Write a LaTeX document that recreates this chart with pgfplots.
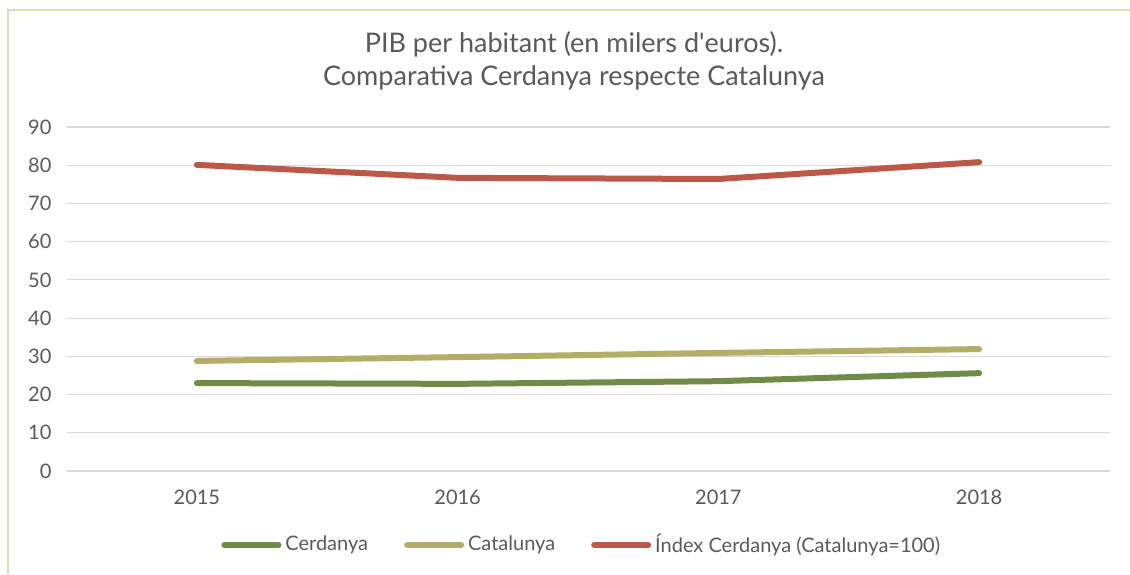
\documentclass[border=0pt]{standalone}
\usepackage{pgfplots}
\pgfplotsset{compat=1.18}
\usepackage{fontspec}
\setmainfont{Lato}

\definecolor{txt}{HTML}{595959}
\definecolor{gridc}{HTML}{D9D9D9}
\definecolor{frame}{HTML}{D7DEB8}
\definecolor{cerd}{HTML}{6E8B47}
\definecolor{cat}{HTML}{B3AE66}
\definecolor{idx}{HTML}{BC5848}

\begin{document}
\begin{tikzpicture}[x=1pt,y=1pt]
  % page 1130x574 px at 0.5pt per px
  \useasboundingbox (0,0) rectangle (565,287);
  \draw[frame, line width=1.2pt] (4,0) -- (4,282) -- (565,282);

  \node[txt, font=\fontsize{13.5}{16.5}\selectfont, align=center] at (287,256.5)
    {PIB per habitant (en milers d\textquotesingle euros).\\Comparativa Cerdanya respecte Catalunya};

  \begin{axis}[
      at={(33.25pt,51.5pt)}, anchor=south west,
      scale only axis,
      width=521.5pt, height=172pt,
      xmin=-0.5, xmax=3.5,
      ymin=0, ymax=90,
      xtick={0,1,2,3},
      xticklabels={2015,2016,2017,2018},
      ytick={0,10,...,90},
      axis line style={draw=none},
      major tick length=0pt,
      ymajorgrids=true,
      grid style={gridc, line width=0.6pt},
      tick label style={txt, font=\fontsize{10}{12}\selectfont},
      /pgf/number format/assume math mode=true,
      yticklabel style={xshift=-4pt},
      xticklabel style={yshift=-6pt},
      legend columns=3,
      legend style={at={(axis description cs:0.495,-0.215)}, anchor=center,
        draw=none, fill=none, font=\fontsize{10}{12}\selectfont, text=txt,
        /tikz/every even column/.append style={column sep=16pt},
        inner sep=0pt},
      legend image code/.code={\draw[#1, line cap=round] (0pt,0pt) -- (27pt,0pt);},
      every axis plot/.append style={line width=3pt, line cap=round, line join=round, no marks},
    ]
    \addplot[cerd] coordinates {(0,23.0) (1,22.8) (2,23.5) (3,25.6)};
    \addlegendentry{Cerdanya}
    \addplot[cat] coordinates {(0,28.8) (1,29.8) (2,30.9) (3,31.9)};
    \addlegendentry{Catalunya}
    \addplot[idx] coordinates {(0,80.1) (1,76.7) (2,76.4) (3,80.8)};
    \addlegendentry{Índex Cerdanya (Catalunya=100)}
  \end{axis}
\end{tikzpicture}
\end{document}
